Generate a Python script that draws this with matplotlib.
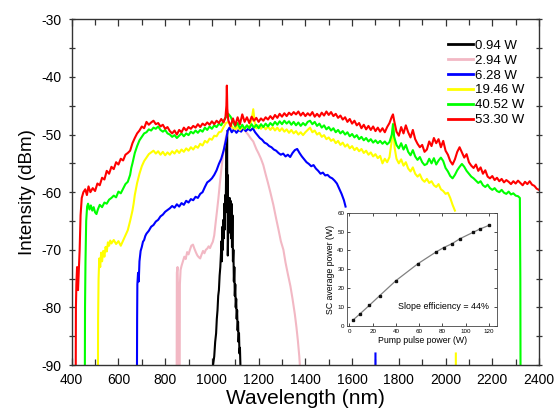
import numpy as np
import matplotlib
matplotlib.use("Agg")
import matplotlib.pyplot as plt
from matplotlib.ticker import MultipleLocator

plt.rcParams['font.family'] = ['Liberation Sans', 'DejaVu Sans']
plt.rcParams['axes.unicode_minus'] = False

nan = np.nan

# 0.94 W pump: narrow noisy line around 1064 nm
wl_094 = [1000, 1005, 1010, 1014, 1018, 1021, 1024, 1027, 1030, 1033, 1036, 1039, 1041, 1043, 1045,
          1047, 1049, 1051, 1053, 1055, 1057, 1059, 1061, 1062, 1063, 1064, 1065, 1066, 1067, 1068,
          1070, 1072, 1074, 1076, 1078, 1080, 1082, 1084, 1086, 1088, 1090, 1092, 1094, 1096, 1098,
          1100, 1102, 1104, 1106, 1108, 1110, 1112, 1114, 1116, 1118, 1120, 1122, 1124]
db_094 = [-95, -90, -88.5, -86, -84.5, -82, -80.5, -78, -77, -74.5, -73, -70.5, -68.5, -72, -66,
          -70, -64.8, -68, -62, -66.5, -60.5, -63.5, -56, -60, -52, -58, -49.4, -62, -57, -71,
          -66, -62.5, -67, -61, -66, -61.5, -68, -62, -69.5, -64, -72, -70, -75.5, -73, -78,
          -76, -80, -78.5, -82, -80.5, -84, -82.5, -86, -84.5, -88, -87, -90, -95]

# 2.94 W
wl_294 = [849, 850, 853, 855, 857, 862, 863, 866, 870, 876, 882, 888, 894, 900, 906, 912, 919, 925,
          932, 938, 944, 950, 956, 962, 968, 974, 980, 986, 992, 998, 1004, 1010, 1016, 1022, 1028,
          1034, 1040, 1046, 1052, 1058, 1066, 1078, 1090, 1100, 1110, 1120, 1134, 1145, 1155, 1165,
          1177, 1190, 1200, 1210, 1220, 1230, 1240, 1250, 1263, 1275, 1285, 1295, 1306, 1315, 1325,
          1336, 1345, 1355, 1362, 1368, 1374, 1378, 1380]
db_294 = [-95, -74, -73, -77, -95, -95, -76, -73.5, -72.8, -72, -71.2, -71.6, -70.4, -70.8, -70, -69.3,
          -69.1, -69.8, -70.5, -71, -71.3, -71.5, -70.8, -70.2, -70.6, -70, -69.8, -69.4, -69.7, -69.1,
          -68.6, -67.5, -65.3, -63.2, -61, -58.5, -56.2, -54, -52.4, -50.8, -49.5, -48.8, -49, -48.7,
          -49.1, -48.8, -48.9, -49.5, -50, -50.6, -51.2, -52.5, -53.3, -54.2, -55.3, -56.9, -58.4, -60,
          -62.2, -64.6, -66.5, -68.5, -70, -72.2, -74.2, -76.3, -78.5, -81.2, -83.5, -85.8, -88.5, -91,
          -95]

# 6.28 W
wl_628 = [679, 680, 681, 684, 687, 690, 695, 700, 705, 710, 715, 720, 730, 740, 750, 760, 770, 780,
          790, 800, 810, 820, 830, 840, 850, 860, 870, 880, 890, 900, 910, 920, 930, 940, 950, 960,
          970, 980, 990, 1000, 1010, 1020, 1030, 1040, 1050, 1060, 1068, 1075, 1085, 1095, 1105, 1115,
          1125, 1135, 1145, 1155, 1165, 1175, 1185, 1195, 1205, 1215, 1225, 1235, 1245, 1255, 1265,
          1275, 1285, 1295, 1305, 1315, 1325, 1335, 1345, 1355, 1365, 1375, 1385, 1395, 1405, 1415,
          1425, 1435, 1445, 1455, 1465, 1475, 1485, 1495, 1505, 1515, 1525, 1535, 1545, 1555, 1565,
          1572, nan, 1700, 1700]
db_628 = [-95, -82, -76, -74, -75.5, -72, -70.2, -69.5, -68.6, -68.3, -67.6, -67.2, -66.7, -66, -65.7,
          -65.1, -64.8, -64.2, -63.9, -63.4, -63.1, -62.8, -62.4, -62.7, -62.1, -62.5, -61.9, -62.2,
          -61.5, -61.8, -61.2, -61.4, -60.8, -61, -60.3, -60, -59.1, -58.3, -58, -57.6, -57, -56.2,
          -55.1, -54.2, -52.8, -51, -49.3, -48.8, -49.6, -49.1, -49.7, -49.2, -49.5, -48.9, -49.4,
          -49, -49.3, -48.9, -49.6, -50.1, -50.6, -50.9, -51.4, -51.6, -52, -52.2, -52.6, -52.8,
          -53.2, -53.5, -53.3, -53.8, -53.5, -53.9, -53.2, -52.7, -52.5, -53.2, -53.8, -54.3, -54.8,
          -55.1, -55.5, -55.3, -55.9, -56.3, -56.8, -56.6, -57.1, -57, -57.4, -57.6, -58, -58.5,
          -59.4, -60.3, -61.4, -62.5, nan, -88, -95]

# 19.46 W
wl_1946 = [512, 513, 515, 518, 522, 526, 530, 535, 540, 545, 550, 555, 560, 565, 570, 580, 590, 600,
           610, 620, 630, 640, 650, 660, 665, 670, 680, 690, 700, 710, 720, 730, 740, 750, 760, 770,
           780, 790, 800, 810, 820, 830, 840, 850, 860, 870, 880, 890, 900, 910, 920, 930, 940, 950,
           960, 970, 980, 990, 1000, 1010, 1020, 1030, 1040, 1050, 1060, 1070, 1080, 1090, 1100, 1110,
           1120, 1130, 1140, 1150, 1160, 1170, 1177, 1183, 1190, 1200, 1210, 1220, 1230, 1240, 1250,
           1260, 1270, 1280, 1290, 1300, 1310, 1320, 1330, 1340, 1350, 1360, 1370, 1380, 1390, 1400,
           1410, 1420, 1430, 1440, 1450, 1460, 1470, 1480, 1490, 1500, 1510, 1520, 1530, 1540, 1550,
           1560, 1570, 1580, 1590, 1600, 1610, 1620, 1630, 1640, 1650, 1660, 1670, 1680, 1690, 1700,
           1710, 1720, 1730, 1740, 1750, 1760, 1770, 1776, 1782, 1790, 1800, 1810, 1820, 1830, 1840,
           1850, 1860, 1870, 1880, 1890, 1900, 1910, 1920, 1930, 1940, 1950, 1960, 1970, 1980, 1990,
           2000, 2010, 2020, 2030, 2040, nan, 2044, 2044]
db_1946 = [-95, -82, -75, -71.5, -73, -70.5, -72, -70.2, -71.2, -69.5, -70.3, -68.7, -69.3, -68.4,
           -68.9, -68.3, -69, -68.5, -69.3, -68.4, -67.5, -66.6, -65, -63.2, -62, -60.5, -58.4, -56.8,
           -55.5, -54.6, -54, -53.4, -53.1, -52.8, -53.3, -52.9, -53.5, -53, -53.6, -53.1, -53.5,
           -52.9, -53.3, -52.7, -53.2, -52.6, -53, -52.4, -52.8, -52.2, -52.6, -52, -52.3, -51.6,
           -51.9, -51.1, -51.4, -50.7, -50.9, -50.2, -50.3, -49.6, -49.5, -48.7, -48, -47.8, -48.3,
           -48.8, -49.1, -48.6, -49.2, -48.7, -49, -48.4, -48.9, -47.5, -45.6, -47.8, -48.9, -48.4,
           -49, -48.5, -49.1, -48.6, -49.2, -48.7, -49.3, -48.8, -49.4, -48.9, -49.5, -49.1, -49.7,
           -49.2, -49.8, -49.4, -50, -49.6, -50.1, -49.6, -49.2, -48.8, -49.6, -49.3, -50, -49.7,
           -50.4, -50.1, -50.8, -50.5, -51.1, -50.8, -51.5, -51.1, -51.8, -51.4, -52.1, -51.7, -52.4,
           -52, -52.7, -52.3, -52.9, -52.5, -53.2, -52.8, -53.5, -53.1, -53.8, -53.4, -54.1, -53.7,
           -55, -54.2, -54.8, -53.9, -51, -48.1, -52.3, -54.2, -55, -54.3, -55.4, -54.8, -55.9, -56.4,
           -55.7, -56.8, -57.3, -56.9, -57.8, -58.2, -57.7, -58.4, -58.1, -58.8, -59.1, -58.6, -59.5,
           -59.8, -60.3, -60.1, -61, -62.2, -63.2, nan, -88, -95]

# 40.52 W
wl_4052 = [456, 457, 459, 462, 466, 470, 476, 482, 488, 494, 500, 506, 512, 520, 530, 540, 550, 560,
           570, 580, 590, 600, 610, 620, 630, 640, 650, 655, 660, 670, 680, 690, 700, 710, 720, 730,
           740, 750, 760, 770, 780, 790, 800, 810, 820, 830, 840, 850, 860, 870, 880, 890, 900, 910,
           920, 930, 940, 950, 960, 970, 980, 990, 1000, 1010, 1020, 1030, 1040, 1050, 1060, 1070,
           1080, 1090, 1100, 1110, 1120, 1130, 1140, 1150, 1160, 1170, 1180, 1190, 1200, 1210, 1220,
           1230, 1240, 1250, 1260, 1270, 1280, 1290, 1300, 1310, 1320, 1330, 1340, 1350, 1360, 1370,
           1380, 1390, 1400, 1410, 1420, 1430, 1440, 1450, 1460, 1470, 1480, 1490, 1500, 1510, 1520,
           1530, 1540, 1550, 1560, 1570, 1580, 1590, 1600, 1610, 1620, 1630, 1640, 1650, 1660, 1670,
           1680, 1690, 1700, 1710, 1720, 1730, 1740, 1750, 1760, 1770, 1775, 1780, 1790, 1800, 1810,
           1820, 1830, 1840, 1850, 1860, 1870, 1880, 1890, 1900, 1910, 1920, 1930, 1940, 1950, 1960,
           1970, 1980, 1990, 2000, 2010, 2020, 2030, 2040, 2050, 2060, 2070, 2080, 2090, 2100, 2110,
           2120, 2130, 2140, 2150, 2160, 2170, 2180, 2190, 2200, 2210, 2220, 2230, 2240, 2250, 2260,
           2270, 2280, 2290, 2300, 2310, 2318, 2320, 2321]
db_4052 = [-95, -80, -72, -65, -62.5, -62, -63, -62.3, -63.2, -62.6, -63.5, -63.8, -63, -62.2, -62.6,
           -61.8, -62, -61.3, -61, -60.6, -60.9, -59.9, -60.2, -59.4, -58.6, -58.2, -57, -55.8, -55,
           -53.2, -52, -51, -50.4, -49.8, -49.6, -49.1, -49.3, -48.8, -49, -48.6, -49.2, -49.5, -49.2,
           -49.8, -50, -50.4, -50.1, -50.6, -50.2, -49.8, -50.3, -49.8, -50.1, -49.5, -49.8, -49.3,
           -49.7, -49.2, -49.5, -48.8, -49.2, -48.6, -49, -48.4, -48.7, -48.1, -48.4, -47.6, -47,
           -46.4, -46.9, -47.8, -48.6, -48, -48.9, -48.3, -49, -48.4, -48.9, -48.2, -48.8, -48.3,
           -48.9, -48.2, -48.7, -48.1, -48.6, -48, -48.4, -47.8, -48.3, -47.7, -48.2, -47.6, -48.1,
           -47.7, -48.3, -47.8, -48.4, -47.9, -48.5, -48, -48.4, -47.8, -47.6, -48.2, -47.8, -48.5,
           -48.1, -48.8, -48.4, -49.1, -48.7, -49.3, -48.9, -49.6, -49.2, -49.8, -49.4, -50, -49.6,
           -50.3, -49.9, -50.5, -50.1, -50.8, -50.4, -51, -50.6, -51.2, -50.8, -51.4, -51, -51.5,
           -51.1, -51.6, -51.2, -51.7, -51.3, -50, -48.2, -50.4, -51.8, -52.4, -51.5, -52.6, -51.8,
           -53, -53.6, -52.7, -53.8, -54.4, -53.9, -54.8, -55.3, -55.1, -54.2, -55, -54.1, -55.2,
           -54.5, -54, -54.6, -55.8, -56.4, -57.2, -57.6, -57, -56.2, -55.6, -55.1, -55.6, -56.3,
           -56.8, -57.3, -57.6, -58, -58.4, -58.1, -58.8, -59.1, -58.7, -59.3, -59.6, -59.3, -59.8,
           -60, -59.6, -60.1, -60.3, -59.9, -60.4, -60.2, -60.6, -60.7, -61, -75, -95]

# 53.30 W
wl_5330 = [417, 418, 420, 423, 427, 430, 434, 438, 443, 450, 458, 465, 472, 480, 490, 500, 510, 520,
           530, 540, 550, 560, 570, 580, 590, 600, 610, 620, 630, 640, 650, 660, 670, 680, 690, 700,
           710, 720, 730, 740, 750, 760, 770, 780, 790, 800, 810, 820, 830, 840, 850, 860, 870, 880,
           890, 900, 910, 920, 930, 940, 950, 960, 970, 980, 990, 1000, 1010, 1020, 1030, 1040, 1050,
           1058, 1062, 1064, 1066, 1070, 1080, 1090, 1100, 1110, 1120, 1130, 1140, 1150, 1160, 1170,
           1180, 1190, 1200, 1210, 1220, 1230, 1240, 1250, 1260, 1270, 1280, 1290, 1300, 1310, 1320,
           1330, 1340, 1350, 1360, 1370, 1380, 1390, 1400, 1410, 1420, 1430, 1440, 1450, 1460, 1470,
           1480, 1490, 1500, 1510, 1520, 1530, 1540, 1550, 1560, 1570, 1580, 1590, 1600, 1610, 1620,
           1630, 1640, 1650, 1660, 1670, 1680, 1690, 1700, 1710, 1720, 1730, 1740, 1750, 1760, 1770,
           1775, 1780, 1790, 1800, 1810, 1820, 1830, 1840, 1850, 1860, 1870, 1880, 1890, 1900, 1910,
           1920, 1930, 1940, 1950, 1960, 1970, 1980, 1990, 2000, 2010, 2020, 2030, 2040, 2050, 2060,
           2070, 2080, 2090, 2100, 2110, 2120, 2130, 2140, 2150, 2160, 2170, 2180, 2190, 2200, 2210,
           2220, 2230, 2240, 2250, 2260, 2270, 2280, 2290, 2300, 2310, 2320, 2330, 2340, 2350, 2360,
           2370, 2380, 2390, 2400]
db_5330 = [-95, -80, -76, -73, -77, -74, -70, -64, -61, -60, -59.5, -60.5, -59, -60, -59.3, -59.8,
           -58.5, -58.8, -57.5, -57.8, -56.3, -56.8, -55.6, -56, -54.8, -55.2, -54.2, -54.5, -53.5,
           -53.2, -52.8, -51.5, -50.6, -49.8, -49.3, -48.6, -48.9, -47.8, -48.3, -47.9, -47.6, -48.2,
           -48, -48.6, -48.3, -49, -48.7, -49.4, -49.8, -49.3, -50, -49.2, -49.6, -48.8, -49.3, -48.7,
           -49, -48.5, -48.8, -48.2, -48.7, -48.1, -48.4, -47.9, -48.3, -47.7, -48.2, -47.6, -48,
           -47.3, -47.9, -47, -45, -41.5, -45.5, -47.5, -48.6, -47.2, -48.4, -47, -48.2, -46.5, -47.8,
           -47, -48, -46.9, -47.6, -47.1, -47.8, -47.2, -47.6, -47, -47.4, -46.8, -47.3, -46.6, -47.1,
           -46.4, -46.9, -46.3, -46.8, -46.2, -46.6, -46.1, -46.5, -46, -46.7, -46.2, -46.8, -46.3,
           -46.7, -46.1, -46.9, -46.4, -46.9, -46.2, -46.7, -46, -46.6, -46.1, -46.8, -46.4, -47.1,
           -46.7, -47.4, -47, -47.8, -47.3, -48.1, -47.6, -48.4, -48, -48.9, -48.3, -49.1, -48.5,
           -49.2, -48.6, -49.4, -48.8, -49.5, -48.9, -49.6, -48.7, -48, -46.9, -46.5, -47.6, -49.5,
           -50.2, -48.7, -49.8, -48.4, -49.6, -50.5, -49.2, -50.8, -51.6, -52.2, -51.8, -53, -52.6,
           -51.2, -52, -50.6, -51.5, -50.8, -52.2, -51.1, -52.8, -53.5, -54.6, -55.2, -54.3, -53,
           -52.2, -53.1, -54, -53.4, -54.8, -55.4, -55.8, -55.2, -56.3, -55.7, -56.8, -56.2, -57.3,
           -57.6, -57.2, -57.9, -57.5, -58.1, -57.7, -58.3, -57.9, -58.2, -58.6, -58.1, -58.5, -58,
           -58.4, -58.8, -58.2, -58.6, -58.1, -58.7, -58.9, -59.4, -59.6]

labels = ['0.94 W', '2.94 W', '6.28 W', '19.46 W', '40.52 W', '53.30 W']
colors = ['#000000', '#f2b8c4', '#0000ff', '#ffff00', '#00ff00', '#ff0000']
spectra = [(wl_094, db_094), (wl_294, db_294), (wl_628, db_628),
           (wl_1946, db_1946), (wl_4052, db_4052), (wl_5330, db_5330)]

# inset: SC output power vs pump pulse power
pump_w = [3, 9, 17, 26, 40, 59, 74, 81, 88, 95, 106, 112, 120]
sc_w = [3, 6.3, 10.8, 16, 24, 33, 39, 41.5, 43.5, 46.2, 49.5, 51.3, 53.3]

fig = plt.figure(figsize=(5.58, 4.13), dpi=100)
ax = fig.add_axes([0.1285, 0.1162, 0.8375, 0.837])

for (wl, db), c, lab in zip(spectra, colors, labels):
    ax.plot(wl, db, color=c, lw=1.5, label=lab)

ax.set_xlim(400, 2400)
ax.set_ylim(-90, -30)
ax.xaxis.set_major_locator(MultipleLocator(200))
ax.xaxis.set_minor_locator(MultipleLocator(100))
ax.yaxis.set_major_locator(MultipleLocator(10))
ax.yaxis.set_minor_locator(MultipleLocator(5))
ax.tick_params(axis='x', which='both', direction='in', top=True, labelsize=10, pad=6)
ax.tick_params(axis='y', which='both', direction='inout', right=True, labelsize=10, pad=5)
ax.tick_params(which='major', length=5, width=0.9, color='#333333')
ax.tick_params(which='minor', length=4, width=0.9, color='#333333')
for s in ax.spines.values():
    s.set_linewidth(1.0)
    s.set_color('#333333')
ax.set_xlabel('Wavelength (nm)', fontsize=15, labelpad=1)
ax.set_ylabel('Intensity (dBm)', fontsize=13.5, labelpad=4)

leg = ax.legend(loc='upper left', bbox_to_anchor=(0.782, 0.972), frameon=False, fontsize=9.5,
                handlelength=1.95, handletextpad=0.15, labelspacing=0.2, borderpad=0.3)
for h in leg.get_lines():
    h.set_linewidth(2.0)

ins = fig.add_axes([0.622, 0.211, 0.269, 0.274])
ins.plot(pump_w, sc_w, color='#808080', lw=0.9, marker='s', ms=1.5,
         mfc='#111111', mec='#111111')
ins.set_xlim(-2, 127)
ins.set_ylim(0, 60)
ins.xaxis.set_major_locator(MultipleLocator(20))
ins.yaxis.set_major_locator(MultipleLocator(10))
ins.tick_params(which='both', direction='in', top=True, right=True, labelsize=4.5,
                length=2, width=0.5, pad=2)
for s in ins.spines.values():
    s.set_linewidth(0.6)
    s.set_color('#444444')
ins.set_xlabel('Pump pulse power (W)', fontsize=6.3, labelpad=2)
ins.set_ylabel('SC average power (W)', fontsize=6.3, labelpad=2)
ins.text(81, 10, 'Slope efficiency = 44%', fontsize=6.4, ha='center', va='center')

fig.savefig('out.png', dpi=100)
